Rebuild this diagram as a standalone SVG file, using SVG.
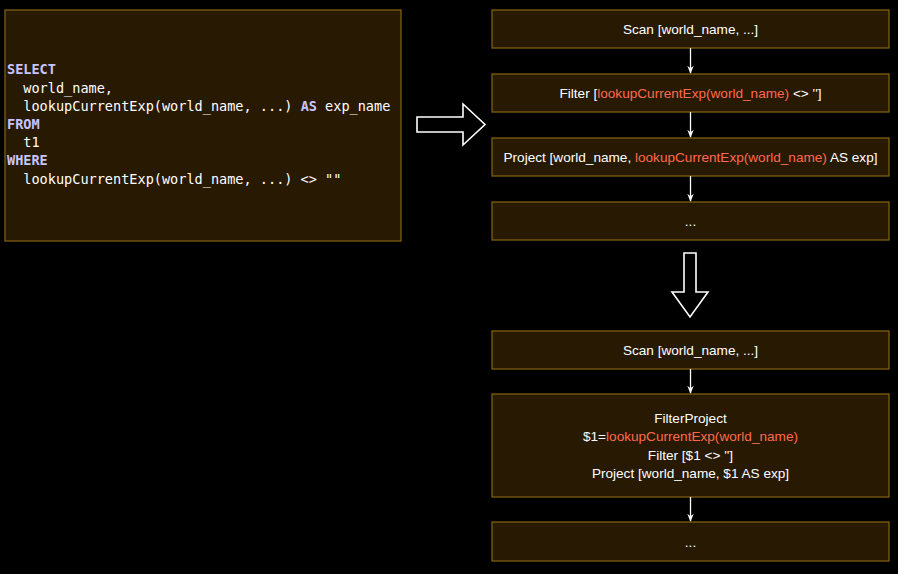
<svg xmlns="http://www.w3.org/2000/svg" width="898" height="574" viewBox="0 0 898 574">
<defs>
<style>
.box{fill:#281903;stroke:#7d5f10;stroke-width:1.3}
.t{font-family:"Liberation Sans",Arial,sans-serif;font-size:13.6px;fill:#ffffff;text-anchor:middle}
.r{fill:#ff6a4d}
.code{font-family:"DejaVu Sans Mono","Liberation Mono",monospace;font-size:13.55px;fill:#ffffff;white-space:pre}
.kw{fill:#c8c4ff;font-weight:bold}
.edge{stroke:#ffffff;stroke-width:1.3;fill:none}
.big{fill:#000000;stroke:#ffffff;stroke-width:1.6}
</style>
<marker id="ah" viewBox="0 0 10 10" refX="9" refY="5" markerWidth="8" markerHeight="8" orient="auto" markerUnits="userSpaceOnUse">
<path d="M0,1 L10,5 L0,9 L3,5 Z" fill="#ffffff"/>
</marker>
</defs>
<rect width="898" height="574" fill="#000000"/>
<g id="sql">
<rect class="box" x="5" y="10" width="396" height="231"/>
<text class="code" x="7" y="74"><tspan class="kw">SELECT</tspan></text>
<text class="code" x="7" y="93">  world_name,</text>
<text class="code" x="7" y="111">  lookupCurrentExp(world_name, ...) <tspan class="kw">AS</tspan> exp_name</text>
<text class="code" x="7" y="129"><tspan class="kw">FROM</tspan></text>
<text class="code" x="7" y="147">  t1</text>
<text class="code" x="7" y="165"><tspan class="kw">WHERE</tspan></text>
<text class="code" x="7" y="184">  lookupCurrentExp(world_name, ...) &lt;&gt; ""</text>
</g>
<g id="arrow-right">
<path class="big" d="M417,117 L463,117 L463,104 L485,124.5 L463,145 L463,132 L417,132 Z"/>
</g>
<g id="arrow-down">
<path class="big" d="M684,253 L696,253 L696,292 L708,292 L690,317 L672,292 L684,292 Z"/>
</g>
<g id="scan1">
<rect class="box" x="492" y="10" width="397" height="38"/>
<text class="t" x="690.5" y="34">Scan [world_name, ...]</text>
</g>
<g id="filter1">
<rect class="box" x="492" y="74" width="397" height="38"/>
<text class="t" x="690.5" y="98">Filter [<tspan class="r">lookupCurrentExp(world_name)</tspan> &lt;&gt; '']</text>
</g>
<g id="project1">
<rect class="box" x="492" y="138" width="397" height="38"/>
<text class="t" x="690.5" y="162">Project [world_name, <tspan class="r">lookupCurrentExp(world_name)</tspan> AS exp]</text>
</g>
<g id="more1">
<rect class="box" x="492" y="202" width="397" height="38"/>
<text class="t" x="690.5" y="226">...</text>
</g>
<g id="scan2">
<rect class="box" x="492" y="331" width="397" height="38"/>
<text class="t" x="690.5" y="355">Scan [world_name, ...]</text>
</g>
<g id="filterproject">
<rect class="box" x="492" y="394" width="397" height="103"/>
<text class="t" x="690.5" y="423">FilterProject</text>
<text class="t" x="690.5" y="441">$1=<tspan class="r">lookupCurrentExp(world_name)</tspan></text>
<text class="t" x="690.5" y="460">Filter [$1 &lt;&gt; '']</text>
<text class="t" x="690.5" y="478">Project [world_name, $1 AS exp]</text>
</g>
<g id="more2">
<rect class="box" x="492" y="522" width="397" height="39"/>
<text class="t" x="690.5" y="547">...</text>
</g>
<g id="connectors">
<line class="edge" x1="690.5" y1="48" x2="690.5" y2="73" marker-end="url(#ah)"/>
<line class="edge" x1="690.5" y1="112" x2="690.5" y2="137" marker-end="url(#ah)"/>
<line class="edge" x1="690.5" y1="176" x2="690.5" y2="201" marker-end="url(#ah)"/>
<line class="edge" x1="690.5" y1="369" x2="690.5" y2="393" marker-end="url(#ah)"/>
<line class="edge" x1="690.5" y1="497" x2="690.5" y2="521" marker-end="url(#ah)"/>
</g>
</svg>
